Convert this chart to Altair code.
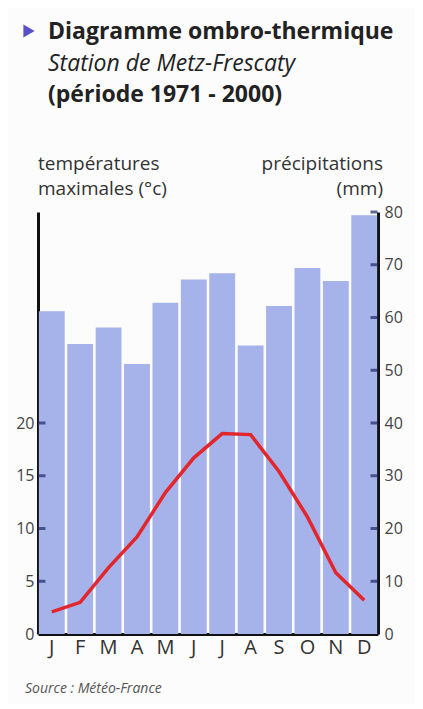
import altair as alt
import pandas as pd

months = ["Janvier", "Février", "Mars", "Avril", "Mai", "Juin", "Juillet",
          "Août", "Septembre", "Octobre", "Novembre", "Décembre"]
precip = [61.2, 55.0, 58.1, 51.2, 62.8, 67.2, 68.4, 54.7, 62.2, 69.4, 66.9, 79.4]
temp = [2.1, 3.0, 6.3, 9.2, 13.4, 16.7, 19.0, 18.9, 15.4, 11.1, 5.8, 3.2]
temp_labels = [0, 5, 10, 15, 20]
precip_labels = [0, 10, 20, 30, 40, 50, 60, 70, 80]
temp_ticks = [5, 10, 15, 20]
precip_ticks = [10, 20, 30, 40, 50, 60, 70, 80]

df = pd.DataFrame({"mois": months, "precip": precip, "temp": temp})
df_tt = pd.DataFrame({"v": temp_ticks})
df_pt = pd.DataFrame({"v": precip_ticks})

W, H = 340, 422
FONT = "Open Sans"

xenc = alt.X("mois:N", sort=months, title=None,
             scale=alt.Scale(paddingInner=0.09, paddingOuter=0.03),
             axis=alt.Axis(labelExpr="substring(datum.label,0,1)", labelAngle=0,
                           labelFontSize=20, labelColor="#333", labelFont=FONT,
                           ticks=False, domainWidth=3, domainColor="#111",
                           labelPadding=3))

yp_scale = alt.Scale(domain=[0, 80], nice=False)
yt_scale = alt.Scale(domain=[0, 40], nice=False)

right_axis = alt.Axis(orient="right", values=precip_labels, grid=False,
                      ticks=False, domainWidth=3, domainColor="#111",
                      labelFontSize=16, labelColor="#444", labelFont=FONT,
                      labelPadding=6)
left_axis = alt.Axis(orient="left", values=temp_labels, grid=False,
                     ticks=False, domainWidth=3, domainColor="#111",
                     labelFontSize=16, labelColor="#444", labelFont=FONT,
                     labelPadding=4)

bars = alt.Chart(df).mark_bar(color="#a6b2ea").encode(
    x=xenc,
    y=alt.Y("precip:Q", scale=yp_scale, title=None, axis=right_axis),
)
rticks = alt.Chart(df_pt).mark_tick(orient="horizontal", size=7, thickness=3,
                                    color="#1c2a6b").encode(
    x=alt.value(W - 4),
    y=alt.Y("v:Q", scale=yp_scale, title=None, axis=right_axis),
)

line = alt.Chart(df).mark_line(color="#e2262c", strokeWidth=3.5).encode(
    x=alt.X("mois:N", sort=months),
    y=alt.Y("temp:Q", scale=yt_scale, title=None, axis=left_axis),
)
lticks = alt.Chart(df_tt).mark_tick(orient="horizontal", size=7, thickness=3,
                                    color="#1c2a6b").encode(
    x=alt.value(4),
    y=alt.Y("v:Q", scale=yt_scale, title=None, axis=left_axis),
)

def txt(s, x, y, size, weight="normal", style="normal", align="left", color="#222"):
    return alt.Chart(pd.DataFrame({"t": [s]})).mark_text(
        align=align, baseline="alphabetic", fontSize=size, fontWeight=weight,
        fontStyle=style, font=FONT, color=color
    ).encode(text="t:N", x=alt.value(x), y=alt.value(y))

tri = alt.Chart(pd.DataFrame({"t": [""]})).mark_point(
    shape="triangle-right", filled=True, size=170, color="#5b4fc8", opacity=1
).encode(x=alt.value(-9), y=alt.value(-181))

texts = [
    txt("Diagramme ombro-thermique", 10, -173, 23, weight="bold"),
    txt("Station de Metz-Frescaty", 10, -141, 23, style="italic"),
    txt("(période 1971 - 2000)", 10, -110, 23, weight="bold"),
    txt("températures", 0, -42, 19, color="#333"),
    txt("maximales (°c)", 0, -17, 19, color="#333"),
    txt("précipitations", 345, -42, 19, align="right", color="#333"),
    txt("(mm)", 345, -17, 19, align="right", color="#333"),
    txt("Source : Météo-France", -13, 481, 14, style="italic", color="#555"),
]

chart = alt.layer(
    alt.layer(bars, rticks),
    alt.layer(line, lticks),
    tri, *texts
).resolve_scale(y="independent").properties(
    width=W, height=H,
    autosize=alt.AutoSizeParams(type="none"),
    padding={"left": 30, "top": 204, "right": 37, "bottom": 70},
    background="#fcfcfc",
).configure_view(stroke=None)

chart.save("out.html", embed_options={"renderer": "svg", "actions": False})
